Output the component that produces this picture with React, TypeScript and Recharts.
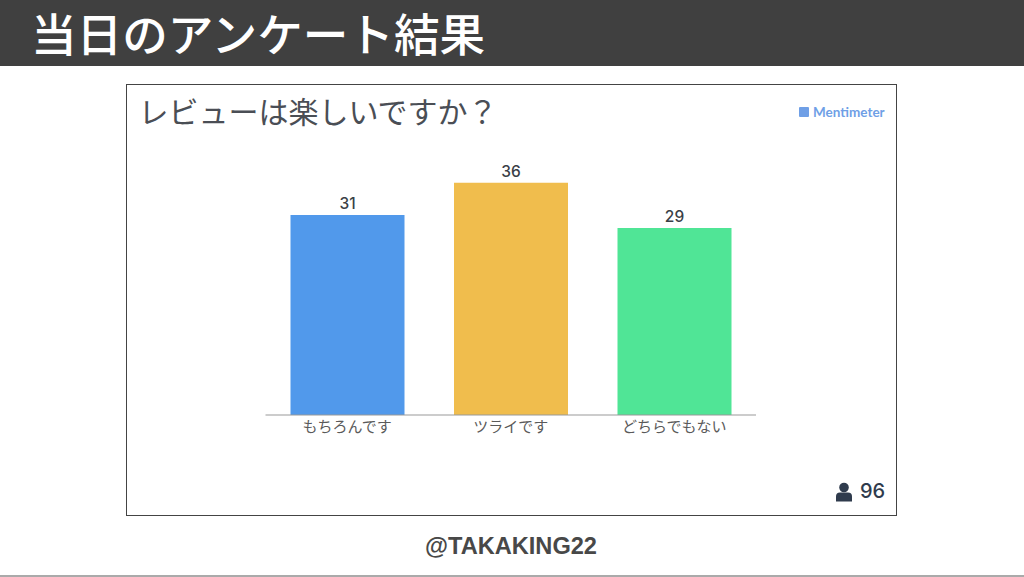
import { Bar, BarChart, Cell, LabelList, XAxis, YAxis } from "recharts";

const categories = ["もちろんです", "ツライです", "どちらでもない"];
const votes = [31, 36, 29];
const barColors = ["#5199eb", "#f0bd4d", "#50e596"];

const data = categories.map((name, i) => ({ name, votes: votes[i] }));

const jpFont = '"Noto Sans CJK JP", "Noto Sans", sans-serif';

export default function App() {
  return (
    <div
      style={{
        position: "absolute",
        left: 0,
        top: 0,
        width: 1024,
        height: 577,
        background: "#fff",
        overflow: "hidden",
        fontFamily: jpFont,
      }}
    >
      <div style={{ position: "absolute", left: 0, top: 0, width: 1024, height: 66, background: "#404040" }} />
      <div
        style={{
          position: "absolute",
          left: 31,
          top: 4,
          fontSize: 45.6,
          lineHeight: "56px",
          color: "#fff",
          fontWeight: 500,
          whiteSpace: "nowrap",
        }}
      >
        当日のアンケート結果
      </div>

      <div
        style={{
          position: "absolute",
          left: 126,
          top: 84,
          width: 768.5,
          height: 430,
          border: "1.5px solid #444",
          background: "#fff",
        }}
      />
      <div
        style={{
          position: "absolute",
          left: 138.5,
          top: 91,
          fontSize: 30,
          lineHeight: "38px",
          color: "#4a4e55",
          fontWeight: 400,
          whiteSpace: "nowrap",
        }}
      >
        レビューは楽しいですか？
      </div>

      <div style={{ position: "absolute", left: 799, top: 107, width: 10, height: 10, background: "#6f9fe6", borderRadius: 1 }} />
      <div
        style={{
          position: "absolute",
          left: 813,
          top: 103,
          fontFamily: "Lato, sans-serif",
          fontSize: 13.5,
          lineHeight: "18px",
          fontWeight: 700,
          color: "#6f9fe6",
          whiteSpace: "nowrap",
        }}
      >
        Mentimeter
      </div>

      <div style={{ position: "absolute", left: 0, top: 0 }}>
        <BarChart
          width={1024}
          height={577}
          data={data}
          margin={{ top: 157, right: 268, bottom: 132, left: 265.5 }}
          barSize={114}
        >
          <XAxis
            dataKey="name"
            height={30}
            tickLine={false}
            axisLine={{ stroke: "#999", strokeWidth: 1 }}
            interval={0}
            tick={{ fontSize: 15, fill: "#5a5a5a", fontFamily: jpFont }}
            tickMargin={0}
          />
          <YAxis hide domain={[0, 40]} />
          <Bar dataKey="votes" isAnimationActive={false}>
            {data.map((d, i) => (
              <Cell key={d.name} fill={barColors[i]} />
            ))}
            <LabelList
              dataKey="votes"
              position="top"
              offset={6}
              style={{ fontSize: 15.5, fontWeight: 500, fill: "#3a3f47", fontFamily: "Inter, sans-serif" }}
            />
          </Bar>
        </BarChart>
      </div>

      <svg style={{ position: "absolute", left: 835, top: 482 }} width={18} height={20} viewBox="0 0 18 20">
        <circle cx={9} cy={5.5} r={4.8} fill="#2f3b4d" />
        <path d="M1 19.5 V14.5 Q1 10.5 5 10.5 H13 Q17 10.5 17 14.5 V19.5 Z" fill="#2f3b4d" />
      </svg>
      <div
        style={{
          position: "absolute",
          left: 860,
          top: 478,
          fontFamily: "Inter, sans-serif",
          fontSize: 20,
          lineHeight: "26px",
          fontWeight: 500,
          color: "#2f3b4d",
        }}
      >
        96
      </div>

      <div
        style={{
          position: "absolute",
          left: 0,
          width: 1022,
          top: 531,
          textAlign: "center",
          fontFamily: "Liberation Sans, sans-serif",
          fontSize: 23.6,
          lineHeight: "30px",
          color: "#484848",
          fontWeight: 700,
        }}
      >
        @TAKAKING22
      </div>
      <div style={{ position: "absolute", left: 0, top: 575, width: 1024, height: 2, background: "#aaa" }} />
    </div>
  );
}
